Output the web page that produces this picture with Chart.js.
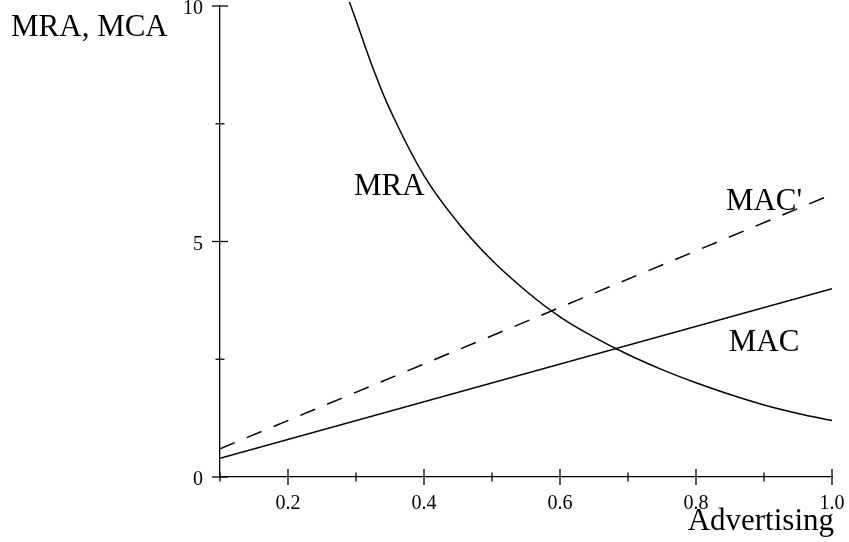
<!DOCTYPE html>
<html>
<head>
<meta charset="utf-8">
<script src="https://cdn.jsdelivr.net/npm/chart.js@4"></script>
<style>
  html, body { margin: 0; padding: 0; background: #fff; }
  #wrap { width: 849px; height: 542px; }
</style>
</head>
<body>
<div id="wrap"><canvas id="chart" width="849" height="542"></canvas></div>
<script>
// ---- data ----
const MRA_X = [0.29, 0.3, 0.325, 0.35, 0.4, 0.45, 0.5, 0.55, 0.6, 0.65, 0.7, 0.75, 0.8, 0.85, 0.9, 0.95, 1.0];
const MRA_Y = [10.1, 9.7, 8.68, 7.8, 6.4, 5.4, 4.6, 3.95, 3.4, 2.97, 2.6, 2.28, 2.0, 1.75, 1.53, 1.35, 1.2];
const MAC_X = [0.1, 1.0];
const MAC_Y = [0.4, 4.0];
const MAC2_X = [0.1, 1.0];
const MAC2_Y = [0.6, 6.0];

const X_TICKS = [0.1, 0.2, 0.3, 0.4, 0.5, 0.6, 0.7, 0.8, 0.9, 1.0];
const X_LABELS = ["0.2", "0.4", "0.6", "0.8", "1.0"];
const Y_TICKS = [0, 2.5, 5, 7.5, 10];
const Y_LABELS = ["0", "5", "10"];

const SERIF = "'Liberation Serif', 'Times New Roman', serif";
const INK = "#000";

const pts = (xs, ys) => xs.map((x, i) => ({ x, y: ys[i] }));
const fmtX = v => (Math.round(v * 10) / 10).toFixed(1);
const fmtY = v => String(Math.round(v * 10) / 10);

// ticks that cross the axis line, drawn from the scales
const crossTicks = {
  id: "crossTicks",
  afterDraw(chart) {
    const { ctx, scales: { x, y }, chartArea: a } = chart;
    ctx.save();
    ctx.strokeStyle = INK;
    ctx.lineWidth = 1.3;
    X_TICKS.forEach(v => {
      const px = x.getPixelForValue(v);
      const len = X_LABELS.includes(fmtX(v)) ? 8 : 4.5;
      ctx.beginPath(); ctx.moveTo(px, a.bottom - len); ctx.lineTo(px, a.bottom + len); ctx.stroke();
    });
    Y_TICKS.forEach(v => {
      const py = y.getPixelForValue(v);
      const len = Y_LABELS.includes(fmtY(v)) ? 8 : 4.5;
      ctx.beginPath(); ctx.moveTo(a.left - len, py); ctx.lineTo(a.left + len, py); ctx.stroke();
    });

    // titles and curve names
    ctx.fillStyle = INK;
    ctx.font = "31px " + SERIF;
    ctx.textBaseline = "alphabetic";
    ctx.textAlign = "left";
    ctx.fillText("MRA, MCA", 11, 36);
    ctx.textAlign = "right";
    ctx.fillText("Advertising", 834, 530);
    ctx.textAlign = "center";
    ctx.fillText("MRA", x.getPixelForValue(0.349), y.getPixelForValue(5.99));
    ctx.fillText("MAC'", x.getPixelForValue(0.9), y.getPixelForValue(5.67));
    ctx.fillText("MAC", x.getPixelForValue(0.9), y.getPixelForValue(2.68));
    ctx.restore();
  }
};

new Chart(document.getElementById("chart"), {
  type: "line",
  data: {
    datasets: [
      { label: "MRA", data: pts(MRA_X, MRA_Y), borderColor: INK, borderWidth: 1.5,
        pointRadius: 0, tension: 0.4, clip: 4 },
      { label: "MAC", data: pts(MAC_X, MAC_Y), borderColor: INK, borderWidth: 1.5, pointRadius: 0 },
      { label: "MAC'", data: pts(MAC2_X, MAC2_Y), borderColor: INK, borderWidth: 1.5,
        pointRadius: 0, borderDash: [16, 13] }
    ]
  },
  options: {
    responsive: false,
    animation: false,
    layout: { padding: { left: 0, top: 6, right: 17, bottom: 0 } },
    plugins: { legend: { display: false }, tooltip: { enabled: false } },
    scales: {
      x: {
        type: "linear", min: 0.1, max: 1.0,
        grid: { display: false },
        border: { display: true, color: INK, width: 1.3 },
        ticks: {
          stepSize: 0.1, autoSkip: false, maxRotation: 0, padding: 7,
          color: INK, font: { family: SERIF, size: 20 },
          callback: v => X_LABELS.includes(fmtX(v)) ? fmtX(v) : ""
        },
        afterFit(s) { s.height = 65; s.paddingLeft = 0; s.paddingRight = 0; }
      },
      y: {
        type: "linear", min: 0, max: 10,
        grid: { display: false },
        border: { display: true, color: INK, width: 1.3 },
        ticks: {
          stepSize: 2.5, autoSkip: false, padding: 9, labelOffset: 3,
          color: INK, font: { family: SERIF, size: 20 },
          callback: v => Y_LABELS.includes(fmtY(v)) ? fmtY(v) : ""
        },
        afterFit(s) { s.width = 220; s.paddingTop = 0; s.paddingBottom = 0; }
      }
    }
  },
  plugins: [crossTicks]
});
</script>
</body>
</html>
